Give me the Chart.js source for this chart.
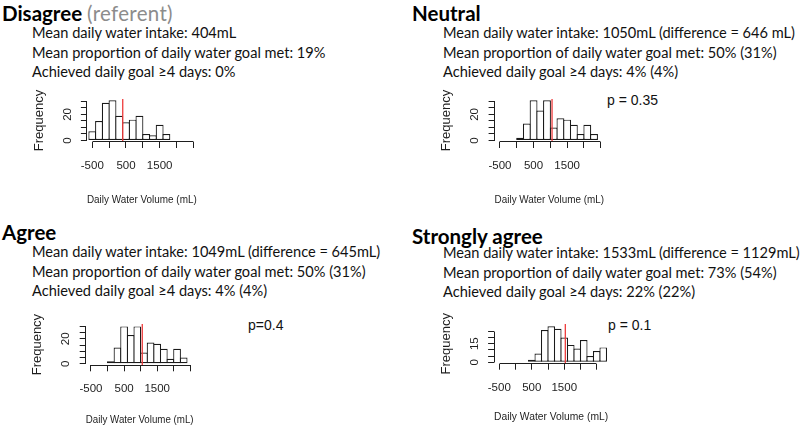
<!DOCTYPE html>
<html>
<head>
<meta charset="utf-8">
<script src="https://cdn.jsdelivr.net/npm/chart.js@4"></script>
<style>
  body { margin: 0; width: 800px; height: 429px; background: #fff; position: relative; overflow: hidden; font-family: Lato, sans-serif; color: #111; }
  .title { position: absolute; font-weight: bold; font-size: 20.5px; line-height: 24px; color: #000; white-space: nowrap; }
  .title span { font-weight: normal; color: #8c8c8c; letter-spacing: 0.3px; }
  .stats { position: absolute; font-size: 14.6px; line-height: 19.5px; white-space: nowrap; }
  .pval { position: absolute; font-family: "Liberation Sans", Arial, sans-serif; font-size: 14px; line-height: 16px; color: #111; }
  canvas { position: absolute; }
</style>
</head>
<body>
<div class="title" style="left:2px;top:1px">Disagree <span>(referent)</span></div>
<div class="stats" style="left:32px;top:23px">Mean daily water intake: 404mL<br>Mean proportion of daily water goal met: 19%<br>Achieved daily goal ≥4 days: 0%</div>

<div class="title" style="left:412px;top:1px">Neutral</div>
<div class="stats" style="left:443px;top:23px">Mean daily water intake: 1050mL (difference = 646 mL)<br>Mean proportion of daily water goal met: 50% (31%)<br>Achieved daily goal ≥4 days: 4% (4%)</div>
<div class="pval" style="left:607px;top:92px">p = 0.35</div>

<div class="title" style="left:2px;top:220px">Agree</div>
<div class="stats" style="left:32px;top:242px">Mean daily water intake: 1049mL (difference = 645mL)<br>Mean proportion of daily water goal met: 50% (31%)<br>Achieved daily goal ≥4 days: 4% (4%)</div>
<div class="pval" style="left:248px;top:317px">p=0.4</div>

<div class="title" style="left:412px;top:224px">Strongly agree</div>
<div class="stats" style="left:443px;top:243px">Mean daily water intake: 1533mL (difference = 1129mL)<br>Mean proportion of daily water goal met: 73% (54%)<br>Achieved daily goal ≥4 days: 22% (22%)</div>
<div class="pval" style="left:608px;top:317px">p = 0.1</div>

<canvas id="hist-disagree"></canvas>
<canvas id="hist-neutral"></canvas>
<canvas id="hist-agree"></canvas>
<canvas id="hist-strongly"></canvas>

<script>
// histogram bins are 200 mL wide, listed by bin centre
const xTicks = [-500, 0, 500, 1000, 1500, 2000, 2500];
const xTickLabels = [-500, 500, 1500];

const disagreeBins = [-500, -300, -100, 100, 300, 500, 700, 900, 1100, 1300, 1500, 1700];
const disagreeCounts = [7, 15, 29, 31, 19, 14, 16, 19, 5, 4, 12, 5];
const disagreeMean = 404;

const neutralBins = [100, 300, 500, 700, 900, 1100, 1300, 1500, 1700, 1900, 2100, 2300];
const neutralCounts = [2, 13, 31, 23, 31, 10, 17, 16, 12, 5, 12, 5];
const neutralMean = 1050;

const agreeBins = [100, 300, 500, 700, 900, 1100, 1300, 1500, 1700, 1900, 2100, 2300];
const agreeCounts = [2, 13, 30, 23, 30, 9, 17, 16, 12, 4, 12, 5];
const agreeMean = 1049;

const stronglyBins = [500, 700, 900, 1100, 1300, 1500, 1700, 1900, 2100, 2300, 2500, 2700];
const stronglyCounts = [2, 7, 26, 29, 27, 20, 14, 11, 18, 5, 9, 12];
const stronglyMean = 1533;

const yTicks30 = [0, 5, 10, 15, 20, 25, 30];
const yLabels30 = [0, 20];
const yTicks25 = [0, 5, 10, 15, 20, 25];
const yLabels25 = [0, 15];

const INK = "#1e1e1e";
const FONT = "'Liberation Sans', Arial, sans-serif";

// box = canvas [left, top, width, height], area = plot [left, top, right, bottom], page px
const panels = [
  { id: "hist-disagree", bins: disagreeBins, counts: disagreeCounts, mean: disagreeMean,
    yTicks: yTicks30, yLabels: yLabels30, xRange: [-660, 2600], yRange: [-1.2, 32],
    box: [30, 85, 200, 125], area: [86.9, 95.9, 196.7, 142] },
  { id: "hist-neutral", bins: neutralBins, counts: neutralCounts, mean: neutralMean,
    yTicks: yTicks30, yLabels: yLabels30, xRange: [-660, 2600], yRange: [-1.2, 32],
    box: [437, 85, 200, 125], area: [494.6, 95.9, 604.1, 142] },
  { id: "hist-agree", bins: agreeBins, counts: agreeCounts, mean: agreeMean,
    yTicks: yTicks30, yLabels: yLabels30, xRange: [-660, 2600], yRange: [-1.2, 32],
    box: [28, 310, 200, 120], area: [85.7, 321, 193.6, 365.3] },
  { id: "hist-strongly", bins: stronglyBins, counts: stronglyCounts, mean: stronglyMean,
    yTicks: yTicks25, yLabels: yLabels25, xRange: [-660, 2850], yRange: [-1.2, 31],
    box: [437, 310, 200, 117], area: [494.1, 319, 608.1, 363.7] },
];

// R-style axis lines that only run from the first to the last tick
const axisLines = {
  id: "axisLines",
  afterDraw(chart) {
    const { ctx, scales: { x, y } } = chart;
    const px = (v) => Math.round(v - 0.5) + 0.5;
    ctx.save();
    ctx.strokeStyle = INK;
    ctx.lineWidth = 1;
    ctx.beginPath();
    ctx.moveTo(px(x.getPixelForValue(x.ticks[0].value)), px(x.top));
    ctx.lineTo(px(x.getPixelForValue(x.ticks[x.ticks.length - 1].value)), px(x.top));
    ctx.moveTo(px(y.right), px(y.getPixelForValue(y.ticks[0].value)));
    ctx.lineTo(px(y.right), px(y.getPixelForValue(y.ticks[y.ticks.length - 1].value)));
    ctx.stroke();
    ctx.restore();
  },
};

function makeHist(p) {
  const canvas = document.getElementById(p.id);
  const [bl, bt, bw, bh] = p.box;
  const [al, at, ar, ab] = p.area;
  canvas.width = bw;
  canvas.height = bh;
  canvas.style.left = bl + "px";
  canvas.style.top = bt + "px";

  return new Chart(canvas, {
    type: "bar",
    data: {
      datasets: [
        {
          type: "bar",
          data: p.bins.map((b, i) => ({ x: b, y: p.counts[i] })),
          backgroundColor: "#fff",
          borderColor: "#1a1a1a",
          borderWidth: 1.2,
          borderSkipped: false,
          barPercentage: 1.17,
          categoryPercentage: 1,
          order: 2,
        },
        {
          type: "line",
          data: [{ x: p.mean, y: p.yRange[0] }, { x: p.mean, y: p.yRange[1] }],
          borderColor: "#ee3b3b",
          borderWidth: 1.3,
          pointRadius: 0,
          order: 1,
        },
      ],
    },
    options: {
      responsive: false,
      animation: false,
      events: [],
      layout: { padding: { top: at - bt, right: bl + bw - ar, left: 0, bottom: 0 } },
      plugins: { legend: { display: false }, tooltip: { enabled: false } },
      scales: {
        x: {
          type: "linear",
          min: p.xRange[0],
          max: p.xRange[1],
          offset: false,
          border: { display: false },
          grid: { offset: false, drawOnChartArea: false, tickLength: 6, color: INK },
          afterBuildTicks: (s) => { s.ticks = xTicks.map((v) => ({ value: v })); },
          afterFit: (s) => { s.height = bt + bh - ab; },
          ticks: {
            autoSkip: false, maxRotation: 0, padding: 11, color: INK,
            font: { family: FONT, size: 11.5 },
            callback: (v) => (xTickLabels.includes(v) ? String(v) : ""),
          },
          title: {
            display: true, text: "Daily Water Volume (mL)", color: INK,
            font: { family: FONT, size: 11.5 }, padding: { top: 0, bottom: 3 },
          },
        },
        y: {
          min: p.yRange[0],
          max: p.yRange[1],
          border: { display: false },
          grid: { drawOnChartArea: false, tickLength: 6, color: INK },
          afterBuildTicks: (s) => { s.ticks = p.yTicks.map((v) => ({ value: v })); },
          afterFit: (s) => { s.width = al - bl; },
          ticks: {
            autoSkip: false, minRotation: 90, maxRotation: 90, crossAlign: "center",
            padding: 7, color: INK, font: { family: FONT, size: 11.5 },
            callback: (v) => (p.yLabels.includes(v) ? String(v) : ""),
          },
          title: {
            display: true, text: "Frequency", color: INK,
            font: { family: FONT, size: 13 }, padding: { top: 2, bottom: 0 },
          },
        },
      },
    },
    plugins: [axisLines],
  });
}

panels.forEach(makeHist);
</script>
</body>
</html>
